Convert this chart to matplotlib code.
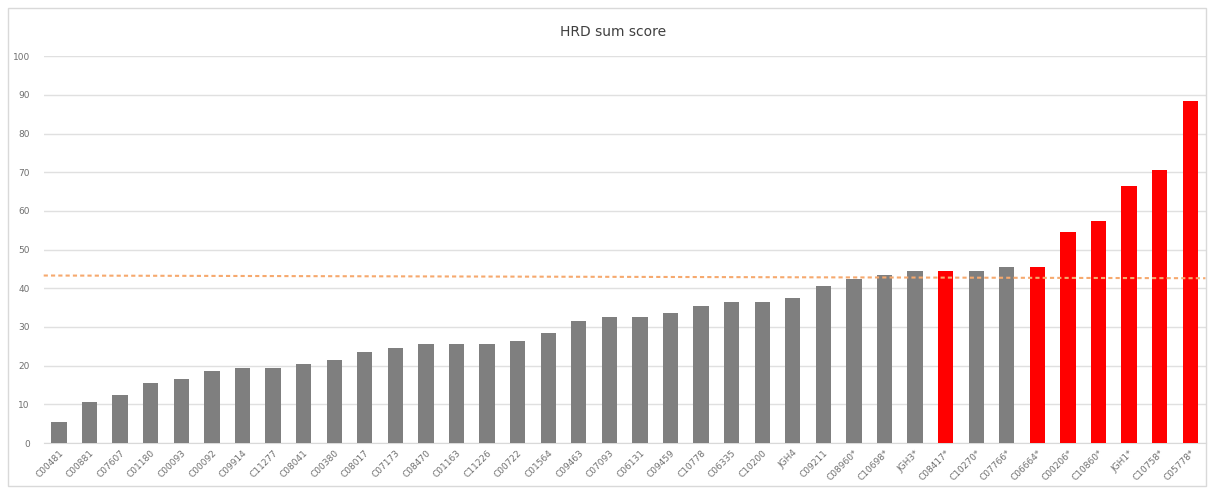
import matplotlib
matplotlib.use("Agg")
import matplotlib.pyplot as plt
from matplotlib.patches import Rectangle

samples = ["C00481", "C00881", "C07607", "C01180", "C00093", "C00092", "C09914",
           "C11277", "C08041", "C00380", "C08017", "C07173", "C08470", "C01163",
           "C11226", "C00722", "C01564", "C09463", "C07093", "C06131", "C09459",
           "C10778", "C06335", "C10200", "JGH4", "C09211", "C08960*", "C10698*",
           "JGH3*", "C08417*", "C10270*", "C07766*", "C06664*", "C00206*",
           "C10860*", "JGH1*", "C10758*", "C05778*"]
scores = [5.5, 10.5, 12.5, 15.5, 16.5, 18.5, 19.5, 19.5, 20.5, 21.5, 23.5, 24.5,
          25.5, 25.5, 25.5, 26.5, 28.5, 31.5, 32.5, 32.5, 33.5, 35.5, 36.5, 36.5,
          37.5, 40.5, 42.5, 43.5, 44.5, 44.5, 44.5, 45.5, 45.5, 54.5, 57.5, 66.5,
          70.5, 88.5]
hrd_positive = ["C08417*", "C06664*", "C00206*", "C10860*", "JGH1*", "C10758*", "C05778*"]
threshold = [43.3, 42.6]  # dashed trend line, left end / right end

colors = ["#ff0000" if s in hrd_positive else "#7f7f7f" for s in samples]

fig = plt.figure(figsize=(12.14, 4.93), dpi=100)
fig.patches.append(Rectangle((0.007, 0.014), 0.986, 0.97, transform=fig.transFigure,
                             fill=False, edgecolor="#d9d9d9", linewidth=1))
ax = fig.add_axes([0.036, 0.1014, 0.957, 0.7846])

x = range(len(samples))
ax.bar(x, scores, width=0.5, color=colors, zorder=3)
ax.plot([-0.5, len(samples) - 0.5], threshold, linestyle=(0, (2, 1.5)), color="#f6a96e",
        linewidth=1.5, zorder=4, clip_on=False)

ax.set_xlim(-0.5, len(samples) - 0.5)
ax.set_ylim(0, 100)
ax.set_yticks(range(0, 101, 10))
ax.grid(axis="y", color="#e0e0e0", linewidth=1, zorder=0)
for s in ax.spines.values():
    s.set_visible(False)
ax.spines["bottom"].set_visible(True)
ax.spines["bottom"].set_color("#d9d9d9")
ax.tick_params(length=0, colors="#707070", labelsize=6.5)
ax.tick_params(axis="y", pad=10)
ax.tick_params(axis="x", pad=4)
ax.set_xticks(list(x))
ax.set_xticklabels(samples, rotation=45, ha="right", rotation_mode="anchor")
fig.text(0.505, 0.935, "HRD sum score", ha="center", va="center", fontsize=10, color="#404040")

fig.savefig("out.png", dpi=100)
